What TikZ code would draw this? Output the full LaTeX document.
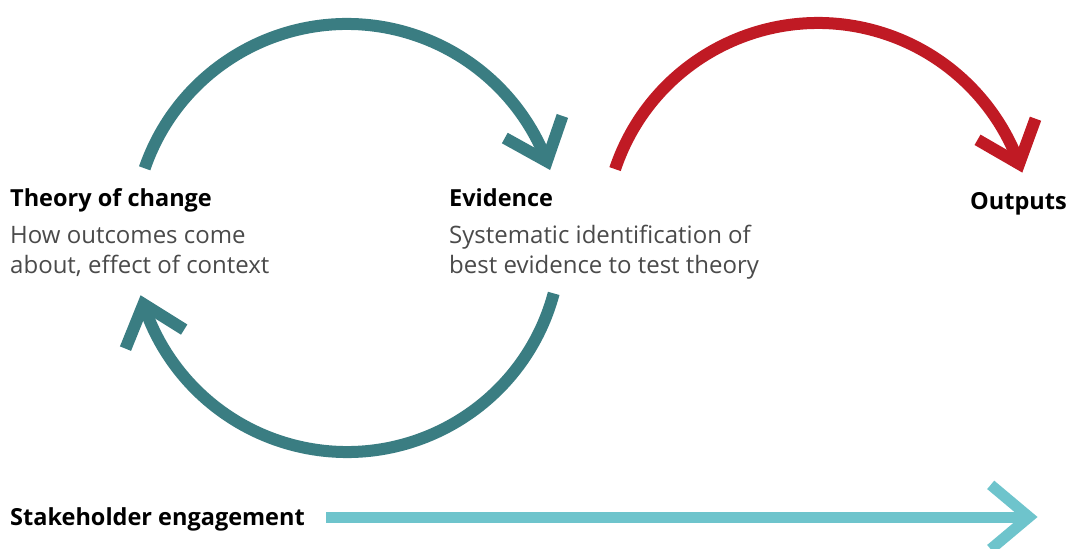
\documentclass[tikz,border=0pt]{standalone}
\usepackage{fontspec}
\setmainfont{Open Sans}
\definecolor{tealdark}{HTML}{3A7D82}
\definecolor{redarc}{HTML}{C01A24}
\definecolor{teallight}{HTML}{6EC4CC}
\definecolor{descgray}{HTML}{4A4A4A}
\begin{document}
\begin{tikzpicture}[x=1pt,y=1pt,
  arcline/.style={line width=12pt},
  chev/.style={line width=12pt, line join=miter, miter limit=10},
  head/.style={font=\fontsize{23.5}{28}\selectfont\bfseries, text=black, anchor=base west, inner sep=0pt},
  desc/.style={font=\fontsize{24}{29.5}\selectfont, text=descgray, anchor=base west, inner sep=0pt, align=left}]
\useasboundingbox (0,0) rectangle (1066,-549);
% centres
\coordinate (c1) at (347,-238);
\coordinate (c2) at (818,-237);
% teal top arc
\draw[arcline, tealdark] (c1) ++(161:214) arc[start angle=161, end angle=21, radius=214] coordinate (e1);
\draw[chev, tealdark] (e1) ++(151:48) -- (e1) -- ++(71:48);
% teal bottom arc
\draw[arcline, tealdark] (c1) ++(-15:214) arc[start angle=-15, end angle=-162, radius=214] coordinate (e2);
\draw[chev, tealdark] (e2) ++(-32:48) -- (e2) -- ++(-112:48);
% red arc
\draw[arcline, redarc] (c2) ++(161.5:214) arc[start angle=161.5, end angle=20, radius=214] coordinate (e3);
\draw[chev, redarc] (e3) ++(150:48) -- (e3) -- ++(70:48);
% texts
\node[head] (toc) at (10,-206) {Theory of change};
\node[desc] (tocd) at (10,-273) {How outcomes come\\about, effect of context};
\node[head] (ev) at (449,-206) {Evidence};
\node[desc] (evd) at (449,-273) {Systematic identification of\\best evidence to test theory};
\node[head] (out) at (970,-209) {Outputs};
\node[head] (stake) at (10,-525) {Stakeholder engagement};
% stakeholder arrow
\coordinate (s1) at (326,-517);
\coordinate (s2) at (1029,-517);
\draw[line width=11pt, teallight] (s1) -- (s2);
\draw[line width=11pt, teallight, line join=miter, miter limit=10] (s2) ++(140:50) -- (s2) -- ++(220:50);
\end{tikzpicture}
\end{document}
